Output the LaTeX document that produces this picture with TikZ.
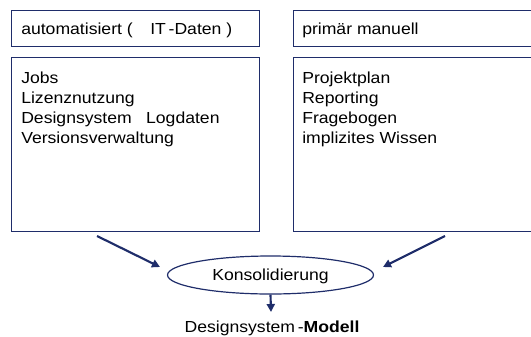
\documentclass[tikz,border=0pt]{standalone}
\usepackage{fontspec}
\setmainfont[FakeStretch=1.1]{Liberation Sans}
\usetikzlibrary{shapes.geometric,arrows.meta}
\definecolor{navy}{HTML}{1F2D6A}
\tikzset{
  box/.style={draw=navy,line width=1.1pt,rectangle,inner sep=0pt},
  txt/.style={anchor=base west,inner sep=0pt,font=\fontsize{12pt}{14pt}\selectfont},
  arr/.style={draw=navy,line width=1.6pt,-{Triangle[length=6pt,width=6pt]}}
}
\begin{document}
\begin{tikzpicture}[x=0.75pt,y=-0.75pt]
\useasboundingbox (0,0) rectangle (531,336);
\clip (0,0) rectangle (531,336);
% left
\node[box,minimum width=248*0.75pt,minimum height=36*0.75pt,anchor=north west] (lh) at (11,10) {};
\node[box,minimum width=248*0.75pt,minimum height=174*0.75pt,anchor=north west] (lb) at (11,57) {};
\node[txt] (lht) at (21,34) {automatisiert (\hspace{1.1em}IT\,-Daten )};
\node[txt] (l1) at (21,83) {Jobs};
\node[txt] (l2) at (21,103) {Lizenznutzung};
\node[txt] (l3) at (21,123) {Designsystem\hspace{0.9em}Logdaten};
\node[txt] (l4) at (21,143.5) {Versionsverwaltung};
% right
\node[box,minimum width=250*0.75pt,minimum height=36*0.75pt,anchor=north west] (rh) at (293,10) {};
\node[box,minimum width=250*0.75pt,minimum height=174*0.75pt,anchor=north west] (rb) at (293,57) {};
\node[txt] (rht) at (302,34) {primär manuell};
\node[txt] (r1) at (302,83) {Projektplan};
\node[txt] (r2) at (302,103) {Reporting};
\node[txt] (r3) at (302,123) {Fragebogen};
\node[txt] (r4) at (302,143.5) {implizites Wissen};
% ellipse
\node[draw=navy,line width=0.9pt,ellipse,minimum width=206*0.75pt,minimum height=38*0.75pt,inner sep=0pt,text depth=0pt,font=\fontsize{12pt}{14pt}\selectfont] (k) at (270.5,275) {Konsolidierung};
\coordinate (la) at (97,236);
\coordinate (ra) at (445,236);
\draw[arr] (la) -- (160,267);
\draw[arr] (ra) -- (383,267);
\node[anchor=base,inner sep=0pt,font=\fontsize{12pt}{14pt}\selectfont] (m) at (272,332) {Designsystem\,-\textbf{Modell}};
\draw[arr] (k.south) -- (271,312);
\end{tikzpicture}
\end{document}
